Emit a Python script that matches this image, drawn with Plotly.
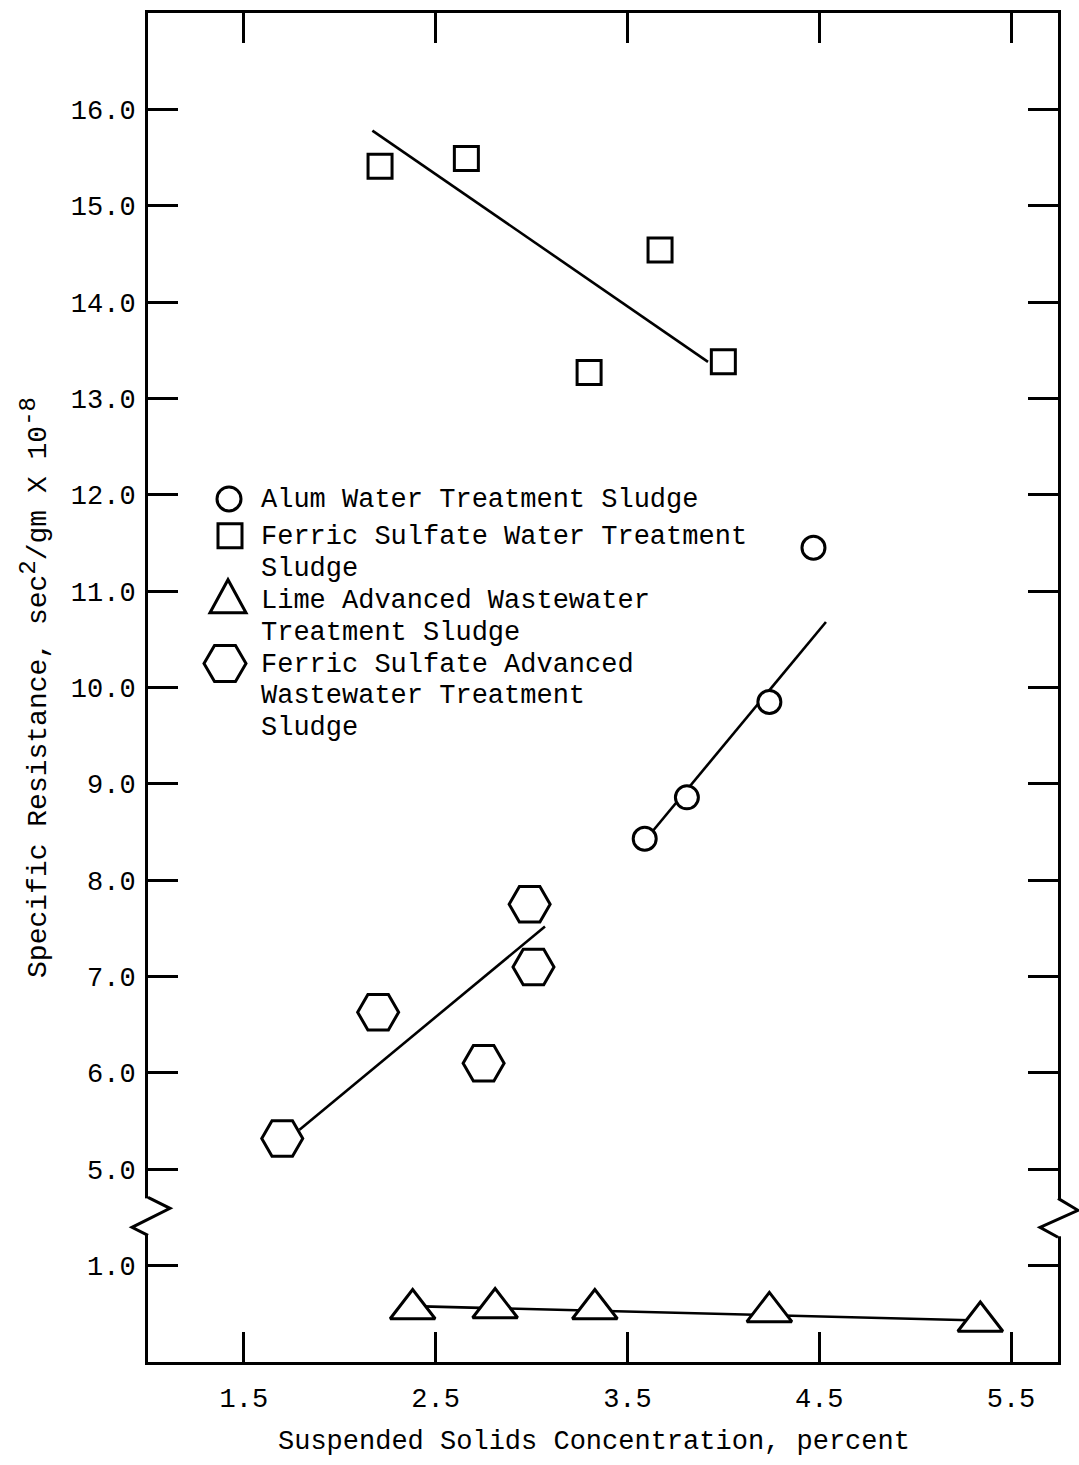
import plotly.graph_objects as go

# ---------------- data ----------------
# Suspended solids (%) vs specific resistance (sec^2/gm x 10^-8)
alum_x = [3.59, 3.81, 4.24, 4.47]
alum_y = [8.43, 8.86, 9.85, 11.45]
alum_fit_x = [3.59, 4.535]
alum_fit_y = [8.41, 10.68]

ferric_wts_x = [2.21, 2.66, 3.30, 3.67, 4.00]
ferric_wts_y = [15.41, 15.49, 13.27, 14.54, 13.38]
ferric_wts_fit_x = [2.17, 3.92]
ferric_wts_fit_y = [15.78, 13.38]

lime_x = [2.38, 2.81, 3.33, 4.24, 5.34]
lime_y = [0.55, 0.56, 0.55, 0.52, 0.42]
lime_fit_x = [2.38, 5.34]
lime_fit_y = [0.58, 0.43]

ferric_awt_x = [1.70, 2.20, 2.75, 2.99, 3.01]
ferric_awt_y = [5.32, 6.63, 6.10, 7.75, 7.10]
ferric_awt_fit_x = [1.79, 3.07]
ferric_awt_fit_y = [5.41, 7.52]

x_tick_values = [1.5, 2.5, 3.5, 4.5, 5.5]
y_tick_values = [1.0, 5.0, 6.0, 7.0, 8.0, 9.0, 10.0, 11.0, 12.0, 13.0, 14.0, 15.0, 16.0]

legend_labels = [
    ["Alum Water Treatment Sludge"],
    ["Ferric Sulfate Water Treatment", "Sludge"],
    ["Lime Advanced Wastewater", "Treatment Sludge"],
    ["Ferric Sulfate Advanced", "Wastewater Treatment", "Sludge"],
]

# ---------------- broken y axis ----------------
# Values below the break sit one division under 5.0, so they are lifted by 3.
BREAK_VALUE = 3.0
LOWER_SHIFT = 3.0


def on_axis(v):
    return v + LOWER_SHIFT if v < BREAK_VALUE else v


def on_axis_list(vals):
    return [on_axis(v) for v in vals]


# ---------------- page geometry ----------------
W, H = 1079, 1465
PLOT_L, PLOT_R, PLOT_T, PLOT_B = 148, 1058, 10, 1362
X_RANGE = [1.0, 5.745]
Y_RANGE = [3.0, 17.0]

FONT = "Liberation Mono"
INK = "black"


def px_x(px):
    return (px - PLOT_L) / (PLOT_R - PLOT_L)


def px_y(py):
    return (PLOT_B - py) / (PLOT_B - PLOT_T)


def path_from_px(points):
    parts = []
    for i, (a, b) in enumerate(points):
        parts.append(("M" if i == 0 else "L") + f"{px_x(a):.5f},{px_y(b):.5f}")
    return " ".join(parts)


fig = go.Figure()

series = [
    (alum_x, alum_y, alum_fit_x, alum_fit_y, "circle", 23, legend_labels[0]),
    (ferric_wts_x, ferric_wts_y, ferric_wts_fit_x, ferric_wts_fit_y, "square", 24, legend_labels[1]),
    (lime_x, lime_y, lime_fit_x, lime_fit_y, "triangle-up", 39, legend_labels[2]),
    (ferric_awt_x, ferric_awt_y, ferric_awt_fit_x, ferric_awt_fit_y, "hexagon2", 41, legend_labels[3]),
]

# trend lines first, so the white-filled symbols sit on top of them
for xs, ys, fx, fy, sym, size, label in series:
    fig.add_trace(go.Scatter(
        x=fx, y=on_axis_list(fy), mode="lines",
        line=dict(color=INK, width=2.6),
        showlegend=False, hoverinfo="skip",
    ))

for xs, ys, fx, fy, sym, size, label in series:
    fig.add_trace(go.Scatter(
        x=xs, y=on_axis_list(ys), mode="markers",
        name=" ".join(label),
        marker=dict(symbol=sym, size=size, color="white",
                    line=dict(color=INK, width=3)),
        showlegend=False,
    ))

shapes = []

# axis break marks (left and right frame edges)
for x_edge, zig in [
    (PLOT_L, [(148, 1197), (170, 1208), (132, 1227), (148, 1235)]),
    (PLOT_R, [(1058, 1198), (1078, 1210), (1040, 1227), (1058, 1237)]),
]:
    shapes.append(dict(
        type="rect", xref="paper", yref="paper", layer="above",
        x0=px_x(x_edge - 4), x1=px_x(x_edge + 4),
        y0=px_y(zig[-1][1] - 1), y1=px_y(zig[0][1] + 1),
        fillcolor="white", line=dict(width=0),
    ))
    shapes.append(dict(
        type="path", xref="paper", yref="paper", layer="above",
        path=path_from_px(zig), line=dict(color=INK, width=3),
    ))

# legend keys
KEY_LW = 3
cx, cy, r = 229, 497, 12
shapes.append(dict(type="circle", xref="paper", yref="paper",
                   x0=px_x(cx - r), x1=px_x(cx + r), y0=px_y(cy + r), y1=px_y(cy - r),
                   line=dict(color=INK, width=KEY_LW), fillcolor="white"))
cx, cy, r = 230, 534, 12
shapes.append(dict(type="rect", xref="paper", yref="paper",
                   x0=px_x(cx - r), x1=px_x(cx + r), y0=px_y(cy + r), y1=px_y(cy - r),
                   line=dict(color=INK, width=KEY_LW), fillcolor="white"))
shapes.append(dict(type="path", xref="paper", yref="paper",
                   path=path_from_px([(210, 611), (246, 611), (228, 578)]) + " Z",
                   line=dict(color=INK, width=KEY_LW), fillcolor="white"))
cx, cy = 225, 662
shapes.append(dict(type="path", xref="paper", yref="paper",
                   path=path_from_px([(cx - 21, cy), (cx - 10.5, cy - 18), (cx + 10.5, cy - 18),
                                      (cx + 21, cy), (cx + 10.5, cy + 18), (cx - 10.5, cy + 18)]) + " Z",
                   line=dict(color=INK, width=KEY_LW), fillcolor="white"))

annotations = []
LEGEND_TEXT_X = 259
line_y = [498, 535, 567, 599, 631, 663, 695, 727]
k = 0
for label in legend_labels:
    for text_line in label:
        annotations.append(dict(
            x=px_x(LEGEND_TEXT_X), y=px_y(line_y[k]), xref="paper", yref="paper",
            xanchor="left", yanchor="middle", showarrow=False,
            text=text_line, font=dict(family=FONT, size=27, color=INK),
        ))
        k += 1

# x-axis title
annotations.append(dict(
    x=px_x(594), y=px_y(1442), xref="paper", yref="paper",
    xanchor="center", yanchor="middle", showarrow=False,
    text="Suspended Solids Concentration, percent",
    font=dict(family=FONT, size=27, color=INK),
))

axis_common = dict(
    showline=True, linewidth=3, linecolor=INK, mirror="allticks",
    ticks="inside", ticklen=30, tickwidth=3, tickcolor=INK,
    showgrid=False, zeroline=False,
    tickfont=dict(family=FONT, size=27, color=INK),
)

y_title = ('Specific Resistance, sec<sup><span style="font-size:24px">2</span></sup>'
           '/gm X 10<sup><span style="font-size:24px">-8</span></sup>')

fig.update_layout(
    width=W, height=H,
    margin=dict(l=PLOT_L, r=W - PLOT_R, t=PLOT_T, b=H - PLOT_B),
    paper_bgcolor="white", plot_bgcolor="white",
    xaxis=dict(range=X_RANGE, tickmode="array", tickvals=x_tick_values,
               ticktext=[f"{v:.1f}" for v in x_tick_values],
               ticklabelstandoff=10, **axis_common),
    yaxis=dict(range=Y_RANGE, tickmode="array", tickvals=on_axis_list(y_tick_values),
               ticktext=[f"{v:.1f}" for v in y_tick_values],
               ticklabelstandoff=4,
               title=dict(text=y_title,
                          font=dict(family=FONT, size=28, color=INK), standoff=16),
               **axis_common),
    shapes=shapes,
    annotations=annotations,
    showlegend=False,
)

fig.write_html("out.html")
